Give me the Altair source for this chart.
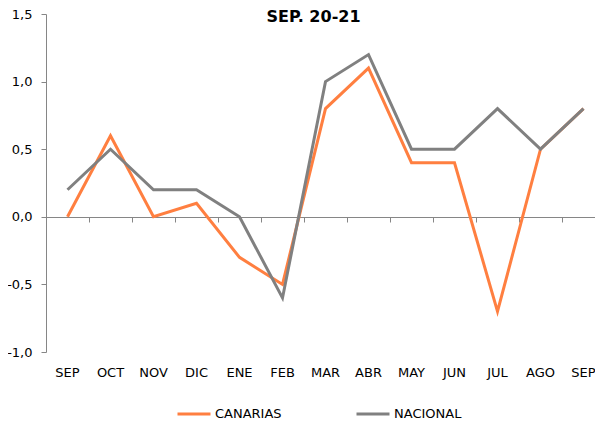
import json
import altair as alt
import pandas as pd

months = ["SEP", "OCT", "NOV", "DIC", "ENE", "FEB", "MAR", "ABR", "MAY", "JUN", "JUL", "AGO", "SEP"]
canarias = [0.0, 0.6, 0.0, 0.1, -0.3, -0.5, 0.8, 1.1, 0.4, 0.4, -0.7, 0.5, 0.8]
nacional = [0.2, 0.5, 0.2, 0.2, 0.0, -0.6, 1.0, 1.2, 0.5, 0.5, 0.8, 0.5, 0.8]
series = ["CANARIAS", "NACIONAL"]
colors = ["#FF7F40", "#808080"]

rows = []
for name, vals in zip(series, [canarias, nacional]):
    for i, v in enumerate(vals):
        rows.append({"idx": i, "serie": name, "valor": v})
df = pd.DataFrame(rows)

FONT = "DejaVu Sans"
label_expr = json.dumps(months) + "[datum.value]"
xscale = alt.Scale(type="band", paddingInner=0, paddingOuter=0, range=[0, 559])
yscale = alt.Scale(domain=[-1.0, 1.5], nice=False, zero=False)
ylabel = "(datum.value < 0 ? '-' : '') + replace(format(abs(datum.value), '.1f'), '.', ',')"

lines = alt.Chart(df).mark_line(strokeWidth=3).encode(
    x=alt.X("idx:O", bandPosition=0.5, scale=xscale,
            axis=alt.Axis(title=None, labelExpr=label_expr, domain=False, ticks=False,
                          labelAngle=0, labelPadding=14, labelFont=FONT, labelFontSize=13,
                          labelColor="#000000")),
    y=alt.Y("valor:Q", scale=yscale,
            axis=alt.Axis(title=None, values=[-1.0, -0.5, 0.0, 0.5, 1.0, 1.5], labelExpr=ylabel,
                          grid=False, domainColor="#868686", tickColor="#868686", tickSize=5,
                          labelPadding=9, labelFont=FONT, labelFontSize=13, labelColor="#000000")),
    color=alt.Color("serie:N", scale=alt.Scale(domain=series, range=colors),
                    legend=alt.Legend(title=None, orient="none", direction="horizontal",
                                      legendX=130, legendY=382, symbolType="stroke",
                                      symbolSize=1089, symbolStrokeWidth=3, labelOffset=3,
                                      columnPadding=68, labelFont=FONT, labelFontSize=13,
                                      labelColor="#000000")),
)

zero_axis = alt.Chart(df).mark_line(opacity=0).encode(
    x=alt.X("idx:O", scale=xscale,
            axis=alt.Axis(title=None, orient="bottom", offset=-135, labels=False,
                          tickBand="extent", domainColor="#868686", tickColor="#868686",
                          tickSize=5, domainWidth=1)),
    y=alt.Y("valor:Q", scale=yscale),
    detail="serie:N",
)

chart = alt.layer(lines, zero_axis).resolve_axis(x="independent").properties(
    width=549,
    height=338,
    autosize=alt.AutoSizeParams(type="none"),
    padding={"left": 38, "top": 6, "right": 0, "bottom": 69},
    title=alt.TitleParams("SEP. 20-21", font=FONT, fontSize=16, fontWeight="bold",
                          anchor="middle", offset=-17, dx=-7, color="#000000"),
).configure_view(stroke=None)

chart.save("out.html", embed_options={"renderer": "svg", "actions": False})
